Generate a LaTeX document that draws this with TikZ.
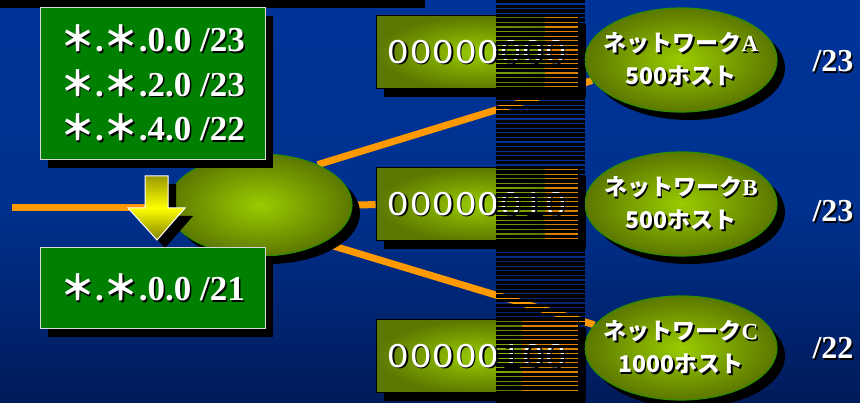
\documentclass[tikz,border=0pt]{standalone}
\usepackage{fontspec}
\setmainfont{Liberation Serif}
\newfontfamily\cjk{Noto Sans CJK JP}
\newfontfamily\cjkwide{Noto Sans CJK JP}[FakeStretch=1.2]
\usetikzlibrary{shapes.geometric,shadows}

\definecolor{slideblue}{HTML}{003399}
\definecolor{slidemid}{HTML}{00318F}
\definecolor{slidenavy}{HTML}{001B5A}
\definecolor{routegreen}{HTML}{008000}
\definecolor{wireorange}{HTML}{FF9900}
\definecolor{hostorange}{HTML}{D98200}
\definecolor{olivelight}{HTML}{99CC00}
\definecolor{olivedark}{HTML}{5C7800}
\definecolor{rimgreen}{HTML}{2E8B00}
\definecolor{arrowolive}{HTML}{9A9A00}

% white text with a dark drop
\newcommand{\shadowed}[1]{\makebox[0pt][l]{\hspace{1.5pt}\raisebox{-1.5pt}{\color{black}#1}}#1}
\newcommand{\wideast}{{\cjk\bfseries ＊}}
\newcommand{\bits}[1]{{\cjkwide\fontsize{32}{32}\selectfont\foreach \d in {#1}{\makebox[22.5pt]{\d}}}}

\pgfdeclarelayer{bg}
\pgfdeclarelayer{wires}
\pgfsetlayers{bg,wires,main}

\tikzset{
  deepshadow/.style={drop shadow={shadow xshift=8pt,shadow yshift=-8pt,opacity=1,fill=black}},
  route/.style={draw=white!85!black, line width=1pt, fill=routegreen, text=white,
    align=center, inner sep=0pt, deepshadow, font=\bfseries\fontsize{35}{44.5}\selectfont},
  host/.store in=\hostw,
  bitbox/.style={draw=black, line width=1pt, inner color=olivelight, outer color=olivedark,
    minimum width=202pt, minimum height=73pt, inner sep=0pt, text=white, deepshadow,
    path picture={\fill[hostorange] ([xshift=-\hostw]path picture bounding box.north east)
      rectangle (path picture bounding box.south east);}},
  net/.style={ellipse, draw=rimgreen, line width=1.2pt, inner color=olivelight,
    outer color=olivedark, minimum width=192pt, minimum height=104pt, inner sep=0pt, deepshadow},
  netlabel/.style={text=white, align=center, font=\cjk\bfseries\fontsize{23}{33}\selectfont},
  mask/.style={text=white, font=\bfseries\fontsize{32}{32}\selectfont},
  wire/.style={wireorange, line width=7pt}
}

\begin{document}
\begin{tikzpicture}[x=1pt,y=-1pt]
    \useasboundingbox (0,0) rectangle (860,403);
    \begin{pgfonlayer}{bg}
    \shade[top color=slideblue, bottom color=slidenavy, middle color=slidemid] (0,0) rectangle (860,403);
    \fill[black] (0,0) rectangle (425,8);
    \end{pgfonlayer}

    % router and its three links
    \node[net, minimum width=184pt, minimum height=102pt] (router) at (260,205) {};

    \node[bitbox, host=33.5pt] (bitsA) at (477,52.5) {\shadowed{\bits{0,0,0,0,0,0,0,0}}};
    \node[bitbox, host=33.5pt] (bitsB) at (477,204.5) {\shadowed{\bits{0,0,0,0,0,0,1,0}}};
    \node[bitbox, host=56pt] (bitsC) at (477,356.5) {\shadowed{\bits{0,0,0,0,0,1,0,0}}};

    \node[net, label={[netlabel]center:\shadowed{ネットワーク{\rmfamily A}}\\\shadowed{500ホスト}}] (netA) at (681,60) {};
    \node[net, label={[netlabel]center:\shadowed{ネットワーク{\rmfamily B}}\\\shadowed{500ホスト}}] (netB) at (681,204) {};
    \node[net, label={[netlabel]center:\shadowed{ネットワーク{\rmfamily C}}\\\shadowed{1000ホスト}}] (netC) at (681,348) {};

    \node[mask] (maskA) at (833,62) {\shadowed{/23}};
    \node[mask] (maskB) at (833,212) {\shadowed{/23}};
    \node[mask] (maskC) at (833,349) {\shadowed{/22}};

    % routes before and after aggregation
    \node[route, minimum width=225pt, minimum height=152pt] (given) at (152.5,84)
        {\shadowed{\wideast.\wideast.0.0 /23}\\\shadowed{\wideast.\wideast.2.0 /23}\\\shadowed{\wideast.\wideast.4.0 /22}};
    \shade[top color=arrowolive, bottom color=arrowolive!85!black, middle color=yellow,
        draw=white, line width=1pt, deepshadow]
        (145,176) -- (168,176) -- (168,208) -- (185,208) -- (157,240) -- (128,208) -- (145,208) -- cycle;
    \node[route, minimum width=225pt, minimum height=81pt] (summary) at (152.5,288.5)
        {\shadowed{\wideast.\wideast.0.0 /21}};

    \coordinate (feed) at (12,208);
    \begin{pgfonlayer}{wires}
    \draw[wire] (feed) -- (feed -| router.center);
    \draw[wire] (router.35) -- (netA.193);
    \draw[wire] (router) -- (bitsB);
    \draw[wire] (router.-31) -- (netC.165);
    \end{pgfonlayer}

    % striped band
    \foreach \y in {0,4.6,...,403}
        \fill[black] (496,\y) rectangle (585,\y+3.4);
\end{tikzpicture}
\end{document}
